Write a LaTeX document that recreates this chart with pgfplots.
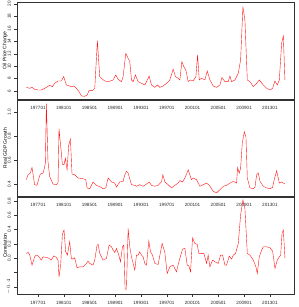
\documentclass[border=0pt]{standalone}
\usepackage{fontspec}
\setmainfont{Liberation Sans}
\usepackage{pgfplots}
\usepackage{pgfplotstable}
\pgfplotsset{compat=1.18}

\pgfplotstableread{
x y
1975.19 6.59
1975.70 6.43
1976.07 6.59
1976.48 6.27
1977.00 6.16
1977.52 6.16
1978.04 6.43
1978.30 6.59
1978.81 6.91
1979.23 6.70
1979.59 7.23
1980.11 7.61
1980.63 7.61
1980.99 8.31
1981.40 6.97
1981.92 6.80
1982.18 6.70
1982.54 6.80
1982.96 6.43
1983.37 5.89
1983.74 5.20
1984.25 5.14
1984.62 5.36
1984.93 6.05
1985.45 6.05
1985.81 6.43
1986.22 14.10
1986.58 8.31
1986.84 8.04
1987.36 7.61
1987.88 7.50
1988.40 7.66
1988.66 7.77
1989.07 8.58
1989.44 7.88
1989.95 7.50
1990.21 8.31
1990.63 12.06
1990.99 11.26
1991.25 10.72
1991.51 7.77
1991.77 7.50
1992.13 8.58
1992.54 7.50
1993.06 7.23
1993.58 6.97
1993.84 7.50
1994.25 8.41
1994.61 6.97
1995.13 6.59
1995.54 6.97
1995.91 6.59
1996.42 6.80
1996.94 7.23
1997.46 7.77
1997.98 9.49
1998.34 8.31
1998.76 8.04
1999.02 7.77
1999.33 10.72
1999.64 9.92
1999.95 9.38
2000.32 7.50
2000.58 7.77
2001.09 7.66
2001.51 8.31
2001.77 11.79
2002.03 7.77
2002.39 8.04
2002.91 7.77
2003.27 9.22
2003.69 7.77
2004.20 6.80
2004.72 6.59
2005.24 6.97
2005.55 8.15
2006.02 7.50
2006.53 7.50
2006.79 8.41
2007.05 7.50
2007.57 7.77
2008.09 8.84
2008.45 10.99
2008.81 19.57
2009.12 17.43
2009.49 7.77
2009.90 7.50
2010.42 6.70
2010.94 7.23
2011.35 7.77
2011.97 6.97
2012.49 6.43
2013.01 6.16
2013.42 6.43
2013.78 7.61
2014.15 6.97
2014.46 7.77
2014.82 13.67
2015.08 14.85
2015.33 7.77
}\oildata

\pgfplotstableread{
x y
1975.19 0.436
1975.45 0.477
1975.81 0.491
1976.07 0.538
1976.48 0.394
1976.84 0.389
1977.16 0.450
1977.36 0.483
1977.78 0.491
1977.93 0.518
1978.14 0.573
1978.30 1.069
1978.55 0.587
1978.81 0.463
1979.33 0.400
1979.85 0.394
1980.11 0.408
1980.26 0.862
1980.63 0.656
1980.78 0.565
1981.04 0.560
1981.25 0.615
1981.51 0.518
1981.77 0.725
1982.03 0.774
1982.28 0.483
1982.70 0.477
1983.22 0.450
1984.00 0.444
1984.41 0.436
1984.62 0.367
1985.03 0.361
1985.55 0.417
1986.07 0.389
1986.59 0.378
1987.10 0.361
1987.52 0.367
1987.88 0.450
1988.40 0.417
1988.92 0.408
1989.18 0.375
1989.69 0.417
1990.21 0.422
1990.47 0.477
1990.73 0.505
1990.99 0.491
1991.51 0.394
1992.03 0.389
1992.28 0.381
1992.80 0.394
1993.32 0.381
1993.84 0.400
1994.25 0.417
1994.62 0.389
1995.13 0.381
1995.65 0.389
1996.17 0.417
1996.38 0.477
1996.69 0.417
1997.21 0.394
1997.73 0.367
1998.24 0.389
1998.76 0.408
1999.02 0.428
1999.44 0.417
1999.80 0.450
2000.32 0.518
2000.83 0.436
2001.09 0.450
2001.61 0.436
2002.13 0.381
2002.65 0.394
2003.17 0.408
2003.58 0.389
2004.20 0.339
2004.72 0.326
2005.24 0.353
2005.76 0.381
2006.27 0.389
2006.79 0.408
2007.31 0.422
2007.83 0.408
2007.98 0.538
2008.24 0.491
2008.45 0.532
2008.71 0.739
2009.02 0.835
2009.28 0.794
2009.49 0.450
2009.90 0.367
2010.42 0.361
2010.68 0.372
2010.94 0.477
2011.20 0.491
2011.46 0.422
2011.97 0.381
2012.49 0.367
2013.01 0.361
2013.42 0.372
2013.63 0.428
2014.05 0.510
2014.46 0.408
2014.82 0.417
2015.34 0.400
}\gdpdata

\pgfplotstableread{
x y
1975.19 0.067
1975.45 0.081
1975.70 0.053
1976.07 -0.096
1976.48 0.020
1976.74 0.044
1977.00 0.034
1977.26 0.006
1977.52 -0.026
1977.78 0.020
1978.04 0.016
1978.55 0.006
1979.07 -0.026
1979.44 0.034
1979.85 0.011
1980.11 -0.026
1980.26 -0.260
1980.52 -0.096
1980.78 0.333
1981.04 0.394
1981.30 0.090
1981.56 0.044
1981.92 0.230
1982.18 -0.003
1982.44 -0.012
1982.70 0.006
1983.06 -0.134
1983.48 -0.120
1984.00 -0.120
1984.51 -0.073
1984.77 -0.040
1985.03 -0.073
1985.55 -0.096
1985.81 -0.026
1986.17 0.184
1986.33 0.193
1986.59 0.067
1987.10 -0.026
1987.62 -0.003
1988.04 0.184
1988.40 0.160
1988.66 0.114
1988.92 0.081
1989.18 0.137
1989.54 0.044
1989.80 -0.050
1990.11 0.160
1990.32 0.184
1990.52 -0.433
1990.73 -0.433
1990.99 0.417
1991.25 0.160
1991.51 0.020
1992.03 -0.166
1992.28 0.044
1992.54 0.044
1992.80 0.090
1993.06 0.044
1993.32 0.020
1993.58 -0.073
1993.84 -0.096
1994.20 0.240
1994.46 0.090
1994.77 0.044
1995.13 -0.073
1995.65 -0.087
1996.27 0.207
1996.69 0.081
1997.05 -0.213
1997.47 -0.120
1997.98 -0.096
1998.50 -0.190
1998.76 -0.087
1999.02 -0.003
1999.44 0.128
1999.80 0.137
2000.16 -0.096
2000.42 -0.106
2000.68 -0.190
2000.99 0.286
2001.35 0.207
2001.72 0.193
2001.97 0.067
2002.39 0.067
2002.75 0.067
2003.17 -0.073
2003.42 0.044
2003.68 -0.120
2004.10 -0.026
2004.46 -0.050
2004.98 -0.073
2005.34 0.044
2005.65 0.044
2006.02 -0.096
2006.27 -0.096
2006.69 0.030
2007.05 -0.012
2007.31 0.044
2007.67 0.067
2008.09 0.207
2008.45 0.604
2008.81 0.814
2009.12 0.697
2009.49 0.067
2009.90 0.044
2010.42 -0.026
2010.83 -0.120
2011.04 -0.213
2011.35 0.020
2011.72 0.114
2011.97 0.160
2012.49 0.160
2013.01 0.146
2013.42 0.100
2013.79 -0.143
2014.15 -0.026
2014.46 0.020
2014.67 0.044
2014.88 0.347
2015.08 0.394
2015.34 -0.003
}\cordata

\pgfplotsset{
  rpanel/.style={
    scale only axis,
    width=277pt,
    xmin=1973.74, xmax=2016.74,
    axis line style={line width=0.4pt, black!80},
    tick style={line width=0.35pt, black!80},
    tick align=outside,
    major tick length=2.5pt,
    xtick pos=bottom, ytick pos=left,
    xtick={1977,1981,1985,1989,1993,1997,2001,2005,2009,2013},
    xticklabels={197701,198101,198501,198901,199301,199701,200101,200501,200901,201301},
    ticklabel style={font=\fontsize{4.6}{5}\selectfont, text=black!85},
    xticklabel style={yshift=-1.5pt},
    yticklabel style={rotate=90, anchor=south},
    /pgf/number format/assume math mode=true,
    every axis y label/.style={at={(axis description cs:-0.0433,0.5)}, rotate=90, anchor=center, font=\fontsize{5}{6}\selectfont},
    clip=true,
  }
}

\begin{document}
\begin{tikzpicture}
\useasboundingbox (-17pt,-13pt) rectangle (281pt,294pt);
\begin{axis}[rpanel, at={(0pt,195pt)}, anchor=south west, height=97pt,
  ymin=4.71, ymax=20.32, ytick={6,8,10,12,14,16,18,20},
  ylabel={Oil Price Change}]
\addplot[red!92!white, line width=0.4pt, no marks] table[x=x,y=y] {\oildata};
\end{axis}
\begin{axis}[rpanel, at={(0pt,98pt)}, anchor=south west, height=96pt,
  ymin=0.30, ymax=1.10, ytick={0.4,0.6,0.8,1.0},
  yticklabel style={/pgf/number format/.cd, fixed, fixed zerofill, precision=1},
  ylabel={Real GDP Growth}]
\addplot[red!92!white, line width=0.4pt, no marks] table[x=x,y=y] {\gdpdata};
\end{axis}
\begin{axis}[rpanel, at={(0pt,0pt)}, anchor=south west, height=97pt,
  ymin=-0.50, ymax=0.856, ytick={-0.4,-0.2,0,0.2,0.4,0.6,0.8},
  yticklabels={$-0.4$,,0.0,0.2,0.4,0.6,0.8},
  ylabel={Correlation}]
\addplot[red!92!white, line width=0.4pt, no marks] table[x=x,y=y] {\cordata};
\end{axis}
\end{tikzpicture}
\end{document}
